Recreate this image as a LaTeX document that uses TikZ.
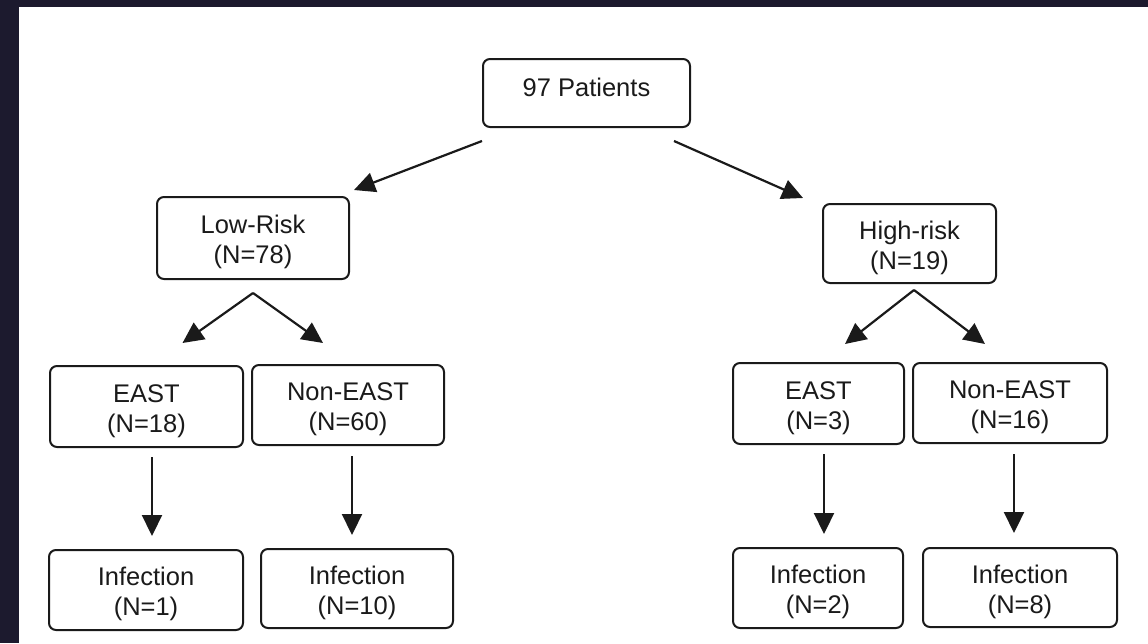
\documentclass[tikz,border=0pt]{standalone}
\usepackage{fontspec}
\setmainfont{Liberation Sans}
\usetikzlibrary{arrows.meta}
\definecolor{frame}{HTML}{1C1A2E}
\definecolor{ink}{HTML}{1A1A1A}
\begin{document}
\begin{tikzpicture}[x=1pt,y=-1pt,
  box/.style={draw=ink,line width=2pt,rounded corners=7pt,align=center,
    inner sep=0pt,text=ink,font=\fontsize{25.5}{30}\selectfont},
  two/.style={text height=56.5pt},
  arr/.style={draw=ink,line width=2.2pt,-{Triangle[length=21pt,width=20pt]}}]
\useasboundingbox (0,0) rectangle (1148,643);
\fill[frame] (0,0) rectangle (1148,643);
\fill[white] (19,7) rectangle (1148,643);
% boxes
\node[box,minimum width=207pt,minimum height=68pt,text height=18pt,text depth=12pt] (pat) at (586.5,93) {97 Patients};
\node[box,two,minimum width=192pt,minimum height=82pt] (low) at (253,238) {Low-Risk\\(N=78)};
\node[box,two,minimum width=173pt,minimum height=79pt] (high) at (909.5,243.5) {High-risk\\(N=19)};
\node[box,two,minimum width=193pt,minimum height=81pt] (eastL) at (146.5,406.5) {EAST\\(N=18)};
\node[box,two,minimum width=192pt,minimum height=80pt] (neL) at (348,405) {Non-EAST\\(N=60)};
\node[box,two,minimum width=194pt,minimum height=80pt] (infL1) at (146,590) {Infection\\(N=1)};
\node[box,two,minimum width=192pt,minimum height=79pt] (infL2) at (357,588.5) {Infection\\(N=10)};
\node[box,two,minimum width=171pt,minimum height=81pt] (eastR) at (818.5,403.5) {EAST\\(N=3)};
\node[box,two,minimum width=194pt,minimum height=80pt] (neR) at (1010,403) {Non-EAST\\(N=16)};
\node[box,two,minimum width=170pt,minimum height=80pt] (infR1) at (818,588) {Infection\\(N=2)};
\node[box,two,minimum width=194pt,minimum height=79pt] (infR2) at (1020,587.5) {Infection\\(N=8)};
% connectors
\draw[arr] ([yshift=-13pt]pat.south west) -- ([xshift=4pt,yshift=6pt]low.north east);
\draw[arr] ([xshift=-17pt,yshift=-13pt]pat.south east) -- ([xshift=-19pt,yshift=5pt]high.north west);
\coordinate (lowapex) at ([yshift=-13pt]low.south);
\draw[arr] (lowapex) -- ([xshift=36pt,yshift=22pt]eastL.north);
\draw[arr] (lowapex) -- ([xshift=-25pt,yshift=21pt]neL.north);
\coordinate (highapex) at ([xshift=4.5pt,yshift=-6pt]high.south);
\draw[arr] (highapex) -- ([xshift=26.5pt,yshift=18pt]eastR.north);
\draw[arr] (highapex) -- ([xshift=-25pt,yshift=18pt]neR.north);
\draw[arr] ([xshift=5.5pt,yshift=-9pt]eastL.south) -- ([xshift=6pt,yshift=13pt]infL1.north);
\draw[arr] ([xshift=4pt,yshift=-10pt]neL.south) -- ([xshift=-5pt,yshift=13pt]infL2.north);
\draw[arr] ([xshift=5.5pt,yshift=-9pt]eastR.south) -- ([xshift=6pt,yshift=13pt]infR1.north);
\draw[arr] ([xshift=4pt,yshift=-10pt]neR.south) -- ([xshift=-6pt,yshift=14pt]infR2.north);
\end{tikzpicture}
\end{document}
